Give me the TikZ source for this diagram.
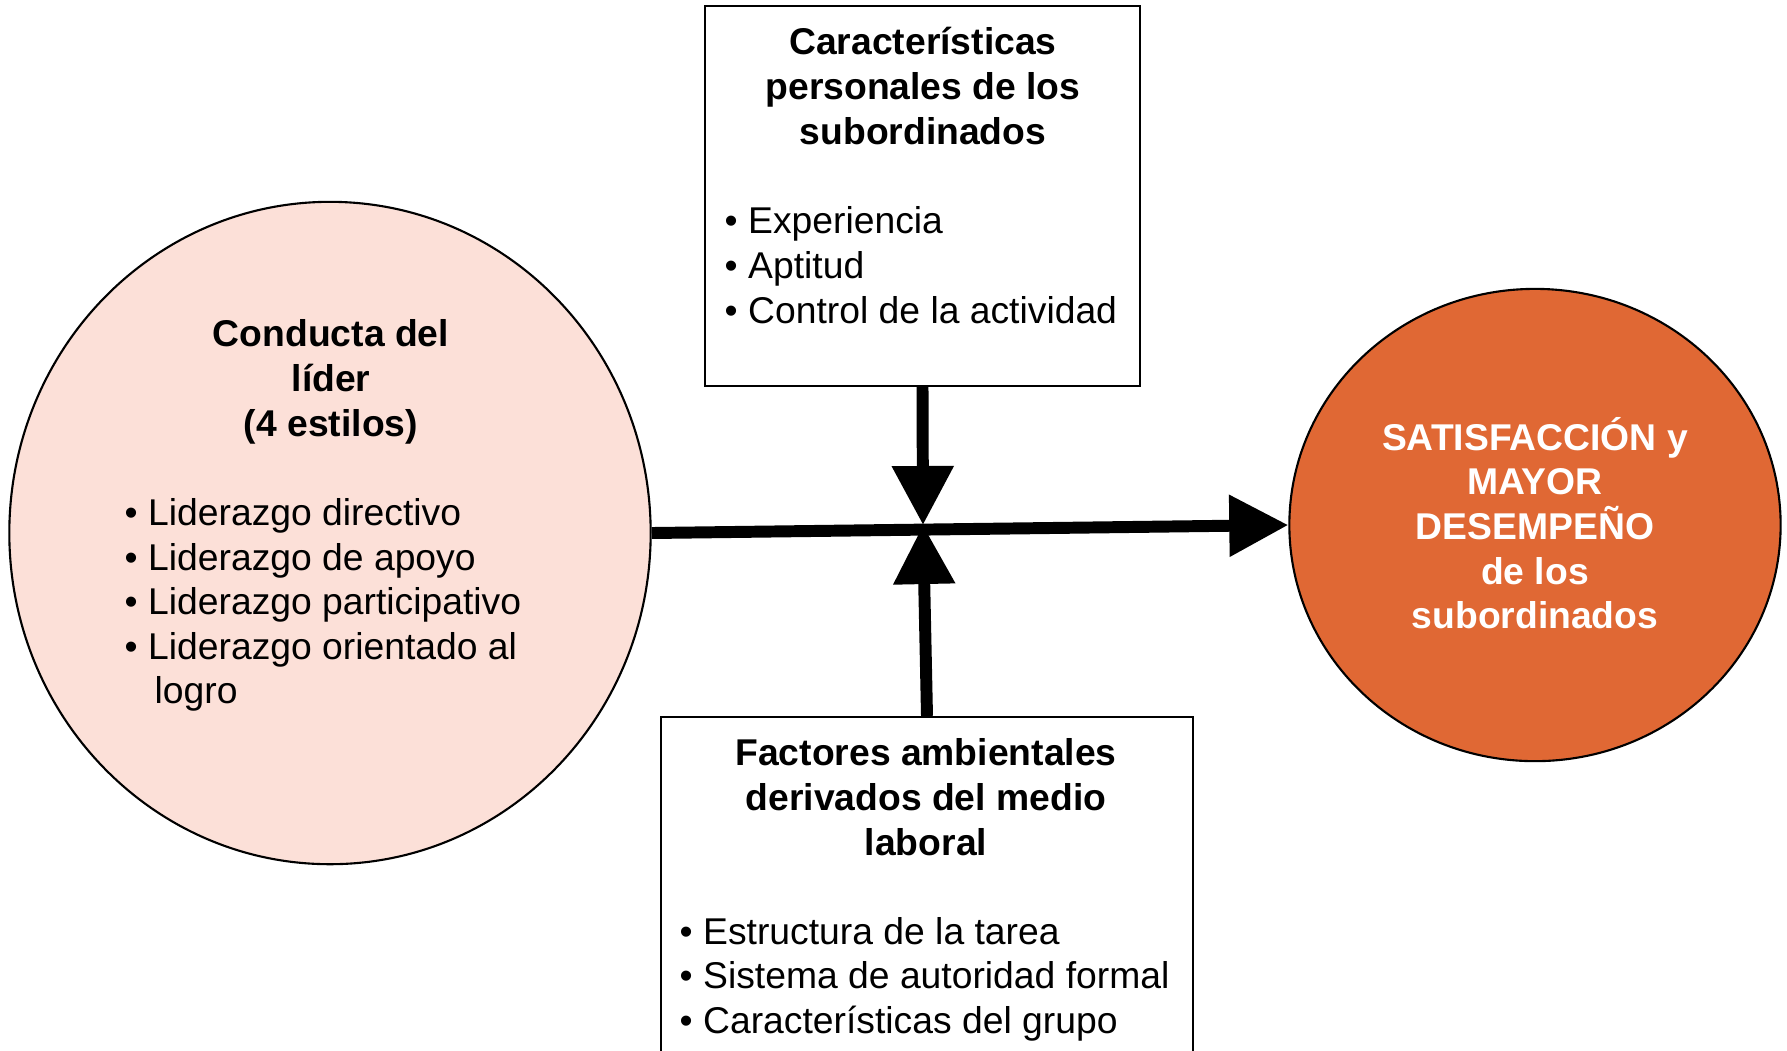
\documentclass[tikz,border=0pt]{standalone}
\usepackage{fontspec}
\setmainfont{Liberation Sans}
\usetikzlibrary{arrows.meta,shapes.geometric}
\newcommand\bulletitem{\makebox[0.235cm][l]{•}}
\definecolor{lightpink}{RGB}{252,224,216}
\definecolor{deeporange}{RGB}{224,104,52}
\begin{document}
\begin{tikzpicture}[x=0.01cm,y=-0.01cm,
  every node/.style={font=\fontsize{10.6}{12.7}\selectfont},
  shapeline/.style={draw=black,line width=0.6pt,inner sep=0pt},
  titletext/.style={font=\fontsize{10.6}{12.7}\selectfont\bfseries,align=center,inner sep=0pt},
  listtext/.style={align=left,anchor=west,inner sep=0pt},
  flow/.style={line width=3.4pt,-{Triangle[length=0.59cm,width=0.59cm]}},
]
\useasboundingbox (0,0) rectangle (1787,1050);
\fill[white] (0,0) rectangle (1787,1050);
\clip (0,0) rectangle (1787,1050);

% shapes
\node[shapeline,ellipse,fill=lightpink,minimum width=6.41cm,minimum height=6.62cm] (L) at (330,533) {};
\node[shapeline,ellipse,fill=deeporange,minimum width=4.91cm,minimum height=4.72cm] (R) at (1535,525) {};
\node[shapeline,rectangle,fill=white,minimum width=4.35cm,minimum height=3.80cm] (T) at (922.5,196) {};
\node[shapeline,rectangle,fill=white,minimum width=5.32cm,minimum height=3.60cm] (B) at (927,897) {};

% connectors
\coordinate (m) at (923,525);
\draw[flow] (L.east) -- (R.west);
\draw[flow] (T.south) -- (m);
\draw[flow] (B.north) -- (m);

% texts
\node[titletext] (Lt) at (331,382) {Conducta del\\líder\\(4 estilos)};
\node[listtext] (Ll) at (124,605) {\bulletitem Liderazgo directivo\\
\bulletitem Liderazgo de apoyo\\
\bulletitem Liderazgo participativo\\
\bulletitem Liderazgo orientado al\\
\hspace*{0.30cm}logro};

\node[titletext,text=white] (Rt) at (1535,523) {SATISFACCIÓN y\\MAYOR\\DESEMPEÑO\\de los\\subordinados};

\node[titletext] (Tt) at (923,86) {Características\\personales de los\\subordinados};
\node[listtext] (Tl) at (724,265) {\bulletitem Experiencia\\
\bulletitem Aptitud\\
\bulletitem Control de la actividad};

\node[titletext] (Bt) at (926,797) {Factores ambientales\\derivados del medio\\laboral};
\node[listtext] (Bl) at (679,979) {\bulletitem Estructura de la tarea\\
\bulletitem Sistema de autoridad formal\\
\bulletitem Características del grupo};
\end{tikzpicture}
\end{document}
